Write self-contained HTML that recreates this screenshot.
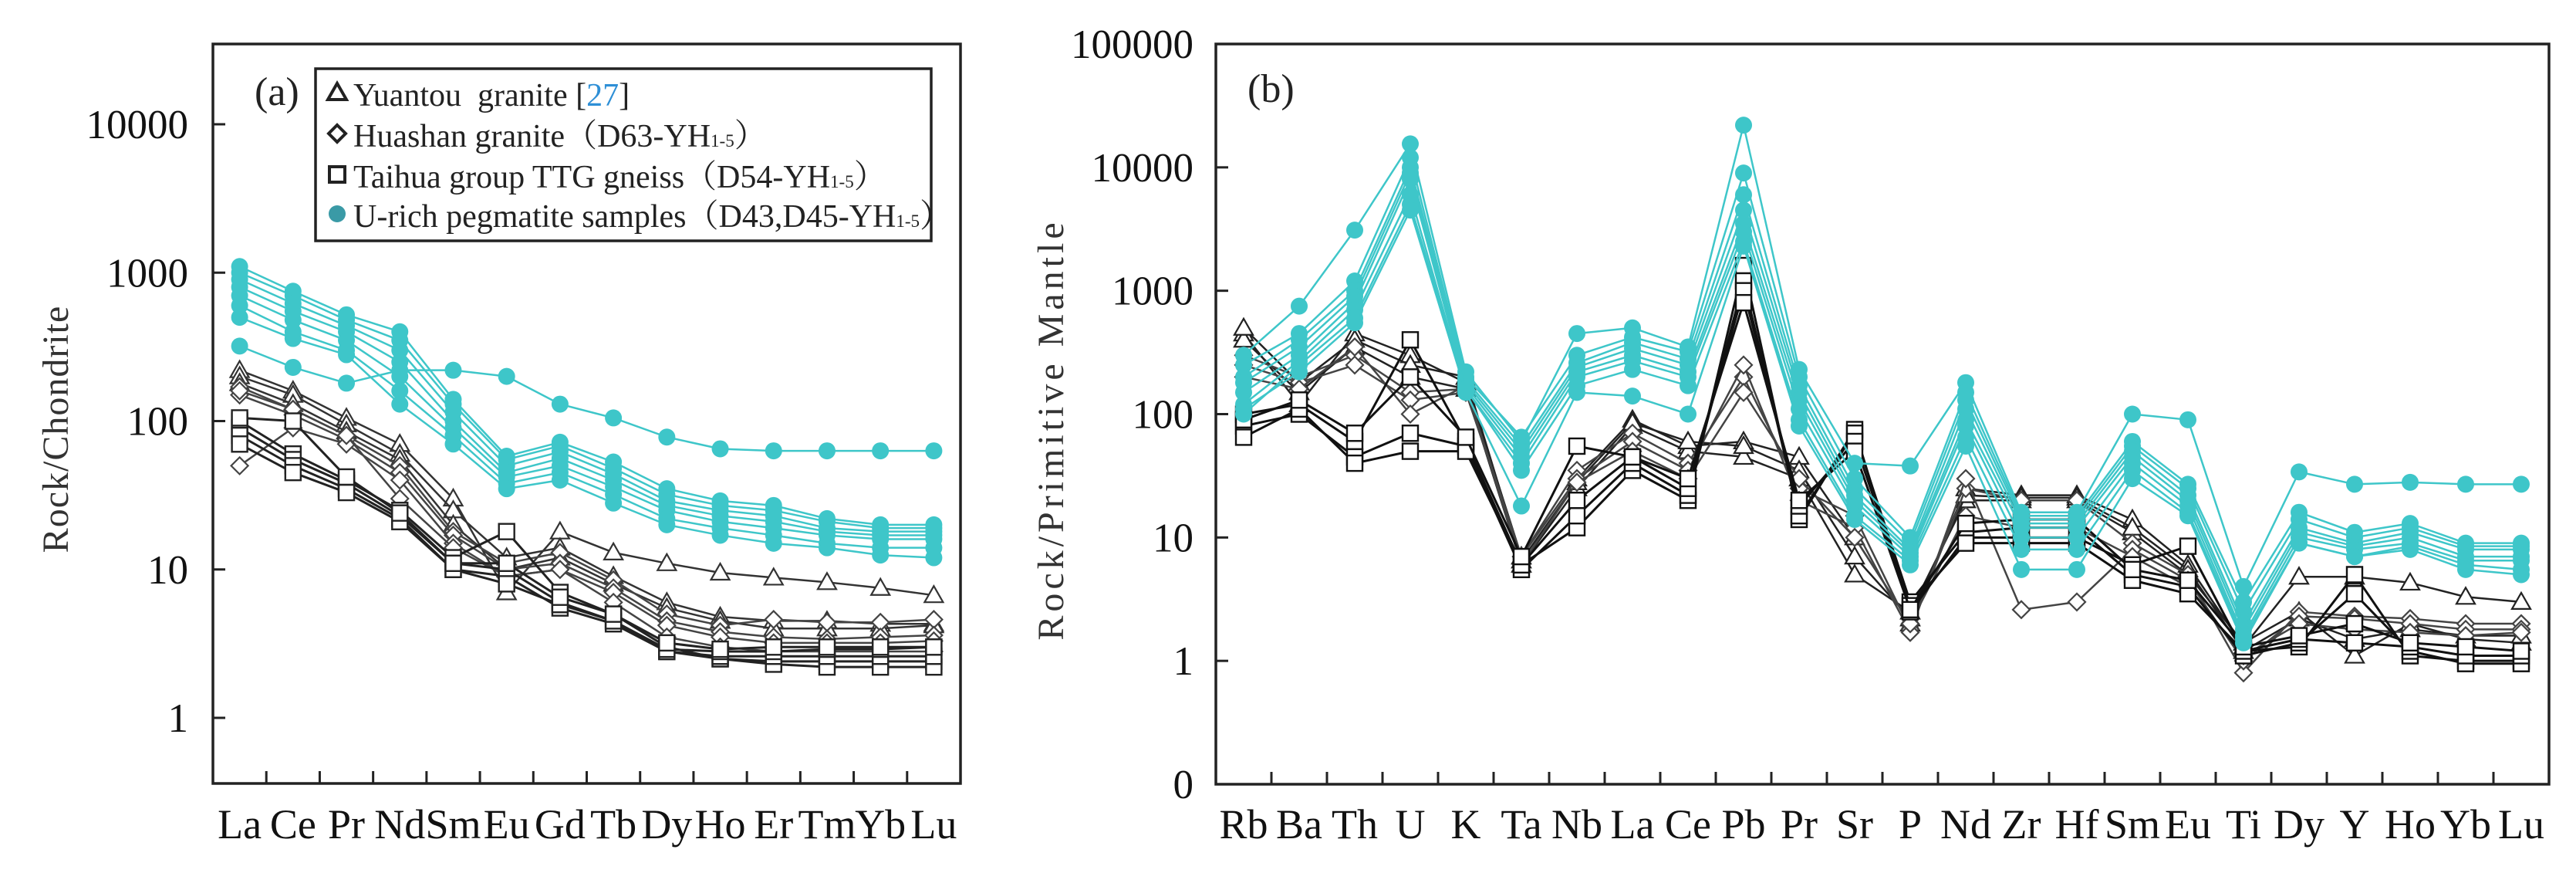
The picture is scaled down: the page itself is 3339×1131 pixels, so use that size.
<!DOCTYPE html>
<html><head><meta charset="utf-8">
<style>
html,body{margin:0;padding:0;background:#fff;}
svg{display:block;font-family:"Liberation Serif","Noto Serif CJK SC",serif;}
</style></head>
<body>
<svg id="fig" width="3339" height="1131" viewBox="0 0 3339 1131" xmlns="http://www.w3.org/2000/svg">
  <g id="pa"></g>
  <g id="pb"></g>
</svg>
<script>
// ---------- Panel (a) data: chondrite-normalised REE ----------
const reeCats = ["La","Ce","Pr","Nd","Sm","Eu","Gd","Tb","Dy","Ho","Er","Tm","Yb","Lu"];
const aTicks = [1,10,100,1000,10000];
const aTickLabels = ["1","10","100","1000","10000"];
const aCyan = [
 [1100,750,520,400,140,58,72,53,35,29,27,22,20,20],
 [1000,700,480,350,130,55,68,48,32,27,25,21,19,19],
 [900,620,440,300,115,50,62,44,29,25,23,19,18,18],
 [800,550,400,250,100,45,56,40,27,23,21,18,17,17],
 [700,480,350,200,90,42,50,36,25,21,19,17,16,16],
 [600,400,300,160,80,38,45,32,22,19,17,15,14,14],
 [500,360,280,130,70,35,40,28,20,17,15,14,12.5,12],
 [320,230,180,220,220,200,130,105,78,65,63,63,63,63]
];
const aTri = [
 [220,160,105,70,30,7,18,13,11,9.5,8.8,8.2,7.5,6.7],
 [200,150,95,60,25,12,14,9,6,4.8,4.5,4.5,4.3,4.3],
 [180,130,85,55,20,10,12,8,5.5,4.5,4,4,4,4.2]
];
const aDia = [
 [170,120,80,50,18,11,13,8.5,5,4.2,4.6,4.4,4.4,4.6],
 [150,110,75,45,17,10,11,7.5,4.5,3.8,3.5,3.4,3.5,3.6],
 [50,90,70,40,15,9,10,7,4.2,3.5,3.2,3.2,3.2,3.3],
 [160,120,80,30,14,9,10,6,3.5,3,2.8,2.8,2.8,2.8]
];
const aSq = [
 [100,60,40,25,12,18,7,5,3,2.5,2.4,2.4,2.4,2.4],
 [90,55,38,23,11,10,6,4.5,2.8,2.5,2.3,2.2,2.2,2.2],
 [80,50,35,22,10,9,5.5,4.3,2.8,2.6,2.6,2.6,2.6,2.6],
 [70,45,33,21,10,8,5.8,4.5,2.9,2.8,2.8,2.9,2.9,3],
 [105,100,42,24,11,11,6.5,5,3.2,2.9,3,3,3,3]
];
// ---------- Panel (b) data: primitive-mantle-normalised spider ----------
const tCats = ["Rb","Ba","Th","U","K","Ta","Nb","La","Ce","Pb","Pr","Sr","P","Nd","Zr","Hf","Sm","Eu","Ti","Dy","Y","Ho","Yb","Lu"];
const bTicks = [0.1,1,10,100,1000,10000,100000];
const bTickLabels = ["0","1","10","100","1000","10000","100000"];
const bCyan = [
 [300,750,3100,15500,220,60,450,500,350,22000,230,40,38,180,16,16,100,90,4,34,27,28,27,27],
 [250,450,1200,12000,200,65,300,420,320,9000,200,30,10,150,15,15,60,27,3,16,11,13,9,9],
 [200,400,1000,10000,190,55,260,380,280,6000,170,25,9,130,14,14,55,25,2.5,14,10,12,8.5,8.5],
 [180,350,900,9000,180,50,240,340,250,4500,150,22,8,110,13,13,50,22,2,12,9,11,8,8],
 [150,300,800,8000,170,45,220,300,220,3500,130,20,7.5,90,12,12,45,20,1.8,11,8.5,10,7,7],
 [120,270,700,6000,160,40,200,270,200,3000,110,18,7,80,10,10,40,18,1.6,10,8,9,6.5,6.5],
 [100,250,600,5000,160,35,170,230,170,2500,90,15,6.5,65,8,8,35,16,1.5,9,7,8.5,6,5.5],
 [110,220,550,4500,150,18,150,140,100,2300,80,14,6,55,5.5,5.5,30,15,1.4,9,7,8,5.5,5]
];
const bTri = [
 [450,120,450,300,180,7,30,90,55,60,45,10,2,25,22,22,14,6,1.3,4.8,4.8,4.3,3.3,3],
 [400,150,350,200,160,6,25,80,50,45,30,5,2.5,20,20,20,11,5,1.4,2.5,1.1,2,1.5,1.4],
 [500,180,400,250,200,6.5,28,85,60,55,35,7,2.2,22,21,21,12,5.5,1.2,2.2,1.5,1.8,1.6,1.6]
];
const bDia = [
 [300,200,300,150,160,7,35,70,40,200,25,15,1.8,25,20,20,9,5,0.8,2.5,2.3,2.2,2,2],
 [250,180,250,130,150,7,30,60,35,250,20,12,1.7,30,2.6,3,8,4.5,1,2.3,2.2,2,1.8,1.8],
 [200,160,350,100,170,6,28,50,30,150,30,10,2,15,12,12,7,4,1.1,2,1.8,1.7,1.6,1.7]
];
const bSq = [
 [100,120,60,400,60,6,12,35,20,1600,14,75,2.5,10,10,10,6,8.5,1.2,1.3,5,1.1,1,1],
 [80,100,45,70,55,5.5,15,40,22,1200,15,70,3,11,12,12,5,4,1.1,1.4,3.5,1.2,0.95,0.95],
 [65,110,40,50,50,6,20,45,25,1000,18,60,2.8,9,9,9,4.5,3.5,1.2,1.5,1.4,1.3,1.1,1.1],
 [90,130,70,200,65,7,55,45,30,800,20,50,2.6,13,14,14,5.5,4.5,1.3,1.6,2,1.4,1.3,1.2]
];

const NS="http://www.w3.org/2000/svg";
const CYAN="#3ec6c9";
function el(tag,attrs,parent){const e=document.createElementNS(NS,tag);for(const k in attrs)e.setAttribute(k,attrs[k]);parent.appendChild(e);return e;}

function makeAxes(cfg){
  const {g,left,right,top,bottom,cats,ymin,ymax,ticks,tickLabels,labelRight,title,titleX,titleSpacing}=cfg;
  const band=(right-left)/cats.length;
  const x=i=>left+band*(i+0.5);
  const y=v=>bottom-(Math.log10(v)-Math.log10(ymin))/(Math.log10(ymax)-Math.log10(ymin))*(bottom-top);
  const frame=el('rect',{x:left,y:top,width:right-left,height:bottom-top,fill:'none',stroke:'#222','stroke-width':3.5},g);
  
  
  for(let i=1;i<cats.length;i++){
    const t=el('line',{x1:left+band*i,x2:left+band*i,y1:bottom,y2:bottom-16,stroke:'#222','stroke-width':3},g);
    
    
  }
  cats.forEach((c,i)=>{
    const t=el('text',{x:x(i),y:1086,'text-anchor':'middle','font-size':54,fill:'#111'},g);
    t.textContent=c;
    
    
  });
  ticks.forEach((v,i)=>{
    const yy=y(v);
    if(yy>top+2&&yy<bottom-2){
      const t=el('line',{x1:left,x2:left+16,y1:yy,y2:yy,stroke:'#222','stroke-width':3},g);
      
      
    }
    const l=el('text',{x:labelRight,y:yy+18,'text-anchor':'end','font-size':53,fill:'#111'},g);
    l.textContent=tickLabels[i];
    
    
  });
  const cy=(top+bottom)/2+20;
  const tt=el('text',{x:titleX,y:cy,'text-anchor':'middle','font-size':48,fill:'#333','letter-spacing':titleSpacing,transform:`rotate(-90 ${titleX} ${cy})`},g);
  tt.textContent=title;
  
  
  return {x,y};
}

function marker(g,type,cx,cy,color){
  let m;
  if(type==='circle') m=el('circle',{cx,cy,r:11,fill:color},g);
  else if(type==='tri') m=el('polygon',{points:`${cx},${cy-12} ${cx-12},${cy+9} ${cx+12},${cy+9}`,fill:'#fff',stroke:color,'stroke-width':2.2},g);
  else if(type==='dia') m=el('polygon',{points:`${cx},${cy-11} ${cx+11},${cy} ${cx},${cy+11} ${cx-11},${cy}`,fill:'#fff',stroke:color,'stroke-width':2.2},g);
  else m=el('rect',{x:cx-10,y:cy-10,width:20,height:20,fill:'#fff',stroke:color,'stroke-width':2.4},g);
  return m;
}

function drawSeries(g,ax,data,type,color,width,nameBase){
  data.forEach((s,si)=>{
    const sg=el('g',{},g);
    
    
    const pts=s.map((v,i)=>ax.x(i)+','+ax.y(v)).join(' ');
    const pl=el('polyline',{points:pts,fill:'none',stroke:color,'stroke-width':width,'stroke-linejoin':'round'},sg);
    
    
    s.forEach((v,i)=>{
      const m=marker(sg,type,ax.x(i),ax.y(v),color);
      
      
    });
  });
}

// Panel (a)
const ga=document.getElementById('pa');
const axA=makeAxes({g:ga,left:276,right:1245,top:57,bottom:1015,cats:reeCats,ymin:Math.pow(10,-85/192.25),ymax:Math.pow(10,4+104/192.25),ticks:aTicks,tickLabels:aTickLabels,labelRight:244,title:'Rock/Chondrite',titleX:88,titleSpacing:1});
drawSeries(ga,axA,aTri,'tri','#333',2.5,'yuantou-series');
drawSeries(ga,axA,aDia,'dia','#444',2.5,'huashan-series');
drawSeries(ga,axA,aSq,'sq','#222',3,'taihua-series');
drawSeries(ga,axA,aCyan,'circle',CYAN,2.5,'pegmatite-series');

// (a) label + legend
let t=el('text',{x:330,y:136,'font-size':52,fill:'#222'},ga);t.textContent='(a)';


const lg=el('g',{},ga);


const lb=el('rect',{x:409,y:89,width:798,height:223,fill:'#fff',stroke:'#222','stroke-width':3.5},lg);


const legRows=[
 {type:'tri',y:122,html:'Yuantou&#160; granite [<tspan fill="#2e8fd6">27</tspan>]',name:'legend-entry-yuantou'},
 {type:'dia',y:175,html:'Huashan granite（D63-YH<tspan font-size="23">1-5</tspan>）',name:'legend-entry-huashan'},
 {type:'sq',y:228,html:'Taihua group TTG gneiss（D54-YH<tspan font-size="23">1-5</tspan>）',name:'legend-entry-taihua'},
 {type:'circle',y:279,html:'U-rich pegmatite samples（D43,D45-YH<tspan font-size="23">1-5</tspan>）',name:'legend-entry-pegmatite'}
];
legRows.forEach(r=>{
  const m=marker(lg,r.type,437,r.y-2,r.type==='circle'?'#3a9aa6':'#222');
  if(r.type!=='circle'){m.setAttribute('stroke-width',4);}
  
  
  const tx=el('text',{x:458,y:r.y+15,'font-size':42,fill:'#222'},lg);
  tx.innerHTML=r.html;
  
  
});

// Panel (b)
const gb=document.getElementById('pb');
const axB=makeAxes({g:gb,left:1576,right:3304,top:57,bottom:1016,cats:tCats,ymin:0.1,ymax:100000,ticks:bTicks,tickLabels:bTickLabels,labelRight:1547,title:'Rock/Primitive Mantle',titleX:1378,titleSpacing:5});
drawSeries(gb,axB,bTri,'tri','#222',2.5,'yuantou-series');
drawSeries(gb,axB,bDia,'dia','#444',2.5,'huashan-series');
drawSeries(gb,axB,bSq,'sq','#111',3,'taihua-series');
drawSeries(gb,axB,bCyan,'circle',CYAN,2.5,'pegmatite-series');
t=el('text',{x:1617,y:132,'font-size':52,fill:'#222'},gb);t.textContent='(b)';


</script>
</body></html>
